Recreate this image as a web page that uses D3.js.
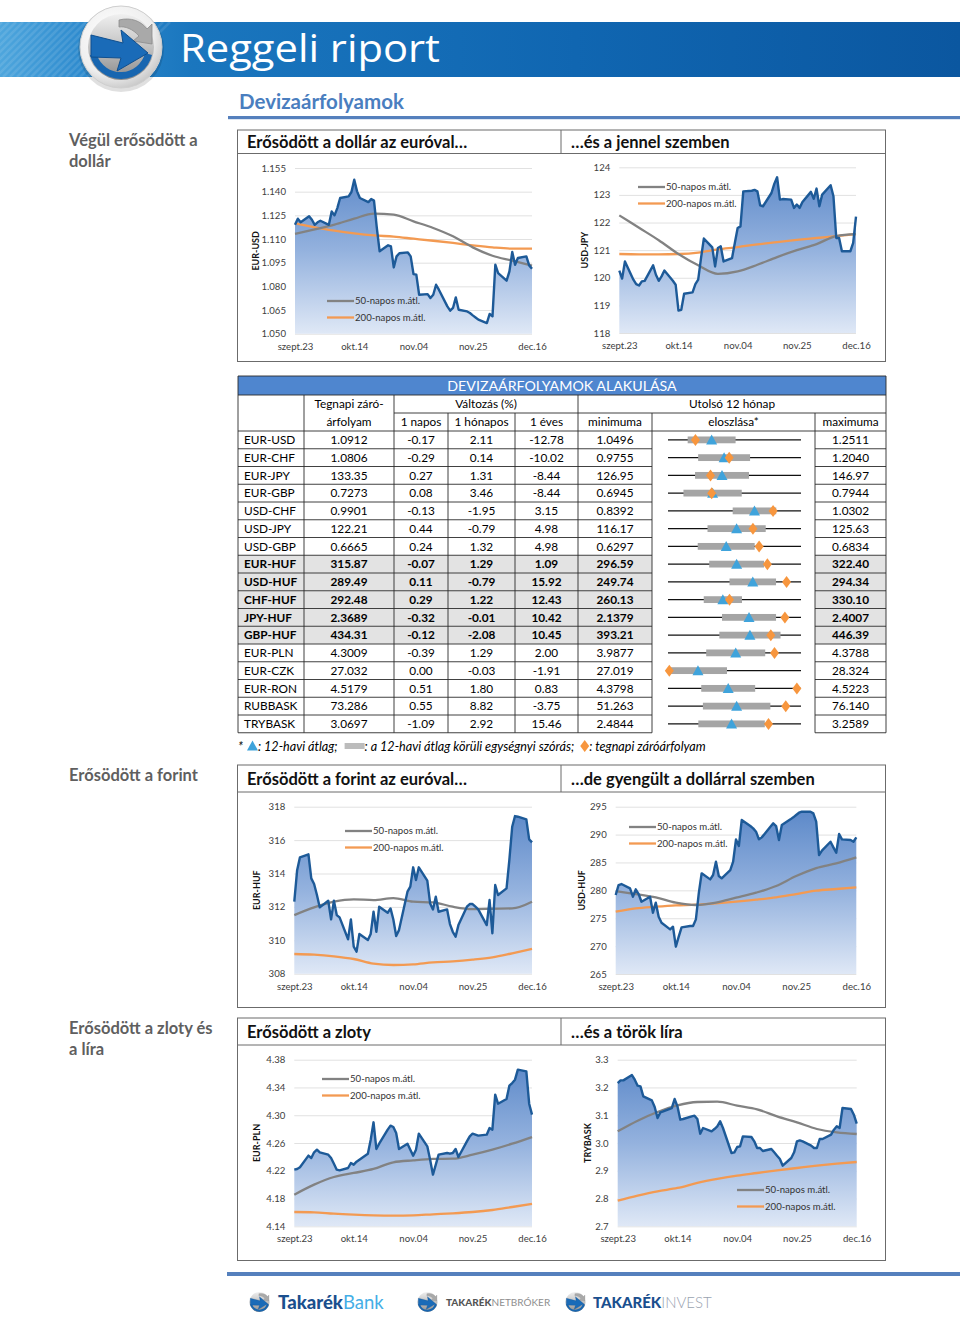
<!DOCTYPE html>
<html><head><meta charset="utf-8">
<script src="https://cdn.jsdelivr.net/npm/d3@7"></script>
<style>html,body{margin:0;padding:0;background:#fff;} svg{display:block;}</style>
</head><body>
<svg id="page" width="960" height="1329"></svg>
<script>
// ================= DATA =================
const tickLabels = ["szept.23","okt.14","nov.04","nov.25","dec.16"];
const tickDateStrings = ["2015-09-23","2015-10-14","2015-11-04","2015-11-25","2015-12-16"];
// moving averages are read at every 5th business day
const maSampleIdx = [0,5,10,15,20,25,30,35,40,45,50,55,60];

const eurusd = [1.119,1.1229,1.1206,1.1244,1.1222,1.119,1.1206,1.1216,1.119,1.1275,1.125,1.1296,1.136,1.137,1.1398,1.1476,1.1402,1.136,1.1334,1.1353,1.1343,1.117,1.1022,1.106,1.1053,1.092,1.099,1.101,1.1015,1.099,1.0878,1.0874,1.0747,1.0751,1.0726,1.0747,1.081,1.0779,1.0673,1.0646,1.0663,1.073,1.0652,1.0641,1.0631,1.0616,1.0603,1.0589,1.0567,1.0625,1.061,1.0937,1.0884,1.0836,1.0895,1.1018,1.0937,1.098,1.099,1.0933,1.0912];
const eurusdMA50 = [1.1132,1.1161,1.1191,1.1229,1.1261,1.1254,1.1212,1.117,1.1117,1.1047,1.0994,1.0963,1.0931];
const eurusdMA200 = [1.1201,1.1174,1.1153,1.1136,1.1123,1.1115,1.1102,1.1089,1.1075,1.106,1.1047,1.1039,1.1039];
const eurusdTicks = [1.050,1.065,1.080,1.095,1.110,1.125,1.140,1.155];

const usdjpy = [120.26,119.97,120.59,119.93,119.77,119.72,119.87,119.89,120.45,120.11,119.89,120.05,120.26,119.89,119.75,118.81,118.84,119.42,119.47,119.77,119.93,120.71,121.42,121.1,120.41,121.08,121.14,120.59,120.71,121.26,121.8,121.86,123.13,123.15,123.18,123.13,122.62,122.59,123.07,123.4,123.64,122.83,122.85,122.83,122.53,122.65,122.53,122.74,123.11,122.86,123.23,122.59,123.01,123.35,122.95,121.44,121.44,120.96,120.96,121.26,122.21];
const usdjpyMA50 = [122.26,121.81,121.36,120.86,120.45,120.14,120.23,120.47,120.75,121.0,121.22,121.51,121.58];
const usdjpyMA200 = [120.86,120.85,120.85,120.86,120.91,121.03,121.11,121.21,121.29,121.37,121.44,121.51,121.58];
const usdjpyTicks = [118,119,120,121,122,123,124];

const eurhuf = [312.31,314.2,314.97,315.15,313.71,313.37,312.71,311.97,312.37,311.25,312.37,311.51,311.37,310.06,311.25,309.62,309.32,310.38,310.02,310.38,311.71,310.51,312.01,311.65,311.91,311.25,310.26,310.61,312.91,313.21,314.37,313.61,314.37,313.57,312.21,311.85,312.61,311.71,311.85,310.97,310.51,310.22,310.91,312.01,312.17,312.17,312.01,311.85,310.91,312.41,310.42,313.31,312.71,313.11,314.81,316.8,317.44,317.4,317.24,316.04,315.86];
const eurhufMA50 = [311.51,311.97,312.31,312.45,312.41,312.53,312.31,312.27,312.01,311.87,311.89,311.91,312.31];
const eurhufMA200 = [309.18,309.14,309.04,308.88,308.6,308.52,308.56,308.68,308.74,308.84,308.98,309.22,309.48];
const eurhufTicks = [308,310,312,314,316,318];

const usdhuf = [279.16,280.95,281.13,280.36,278.86,280.18,279.34,277.96,278.86,275.99,277.79,275.28,274.2,273.0,273.48,269.9,271.69,273.36,273.6,273.6,274.8,279.46,283.05,281.97,282.75,285.14,282.57,282.15,283.64,285.14,289.14,287.95,292.61,291.53,291.11,290.52,289.14,289.5,291.41,292.01,291.53,289.02,291.71,292.73,293.09,293.51,293.92,294.1,294.1,293.8,292.31,286.33,287.11,288.72,287.71,286.75,290.1,289.14,289.02,288.72,289.5];
const usdhufMA50 = [279.88,279.34,278.74,277.79,277.37,277.79,278.68,279.58,280.77,282.57,284.0,284.84,285.91];
const usdhufMA200 = [276.17,276.77,277.07,277.31,277.43,277.67,277.97,278.32,278.74,279.34,279.94,280.24,280.53];
const usdhufTicks = [265,270,275,280,285,290,295];

const eurpln = [4.2216,4.2226,4.225,4.2418,4.2384,4.2466,4.2504,4.2466,4.2432,4.2384,4.2302,4.2216,4.2206,4.224,4.2312,4.2288,4.2331,4.236,4.2446,4.2648,4.2898,4.2514,4.259,4.2792,4.285,4.283,4.2744,4.2514,4.259,4.2504,4.2418,4.2504,4.2734,4.2552,4.236,4.2144,4.2288,4.2432,4.2456,4.2446,4.2456,4.2514,4.2398,4.2624,4.2696,4.2734,4.272,4.2706,4.272,4.2816,4.2792,4.3296,4.3166,4.3234,4.3426,4.3464,4.3512,4.3656,4.3632,4.3166,4.3009];
const eurplnMA50 = [4.1856,4.2,4.211,4.2168,4.2226,4.2322,4.235,4.237,4.2374,4.2432,4.2504,4.259,4.2686];
const eurplnMA200 = [4.1606,4.1602,4.1582,4.1568,4.1558,4.1554,4.1558,4.1573,4.1587,4.1606,4.1635,4.1678,4.1722];
const eurplnTicks = [4.14,4.18,4.22,4.26,4.30,4.34,4.38];

const trybask = [3.216,3.2256,3.2256,3.2448,3.228,3.2064,3.204,3.168,3.1536,3.1296,3.09,3.1104,3.114,3.126,3.1584,3.132,3.084,3.0864,3.096,3.0984,3.0864,3.0336,3.054,3.042,3.0504,3.06,3.078,3.054,2.964,2.9664,2.9856,2.988,3.024,3.0216,3.006,2.982,2.982,2.9712,2.9784,2.9664,2.9544,2.9424,2.9184,2.946,2.9664,3.006,3.0096,3.006,2.9904,2.982,2.982,3.0144,3.0144,3.03,3.048,3.06,3.054,3.126,3.1224,3.102,3.0697];
const trybaskMA50 = [3.042,3.0804,3.1116,3.1356,3.1476,3.1488,3.1344,3.1212,3.096,3.0744,3.0504,3.0384,3.0324];
const trybaskMA200 = [2.7924,2.8104,2.826,2.838,2.856,2.8704,2.8824,2.892,2.9016,2.91,2.9184,2.9256,2.9316];
const trybaskTicks = [2.7,2.8,2.9,3.0,3.1,3.2,3.3];

const legendLabels = ["50-napos m.átl.","200-napos m.átl."];

// table
const tablePairs = ["EUR-USD","EUR-CHF","EUR-JPY","EUR-GBP","USD-CHF","USD-JPY","USD-GBP","EUR-HUF","USD-HUF","CHF-HUF","JPY-HUF","GBP-HUF","EUR-PLN","EUR-CZK","EUR-RON","RUBBASK","TRYBASK"];
const closeVals = [1.0912,1.0806,133.35,0.7273,0.9901,122.21,0.6665,315.87,289.49,292.48,2.3689,434.31,4.3009,27.032,4.5179,73.286,3.0697];
const valueDecimals = [4,4,2,4,4,2,4,2,2,2,4,2,4,3,4,3,4];
const chg1d = [-0.17,-0.29,0.27,0.08,-0.13,0.44,0.24,-0.07,0.11,0.29,-0.32,-0.12,-0.39,0.00,0.51,0.55,-1.09];
const chg1m = [2.11,0.14,1.31,3.46,-1.95,-0.79,1.32,1.29,-0.79,1.22,-0.01,-2.08,1.29,-0.03,1.80,8.82,2.92];
const chg1y = [-12.78,-10.02,-8.44,-8.44,3.15,4.98,4.98,1.09,15.92,12.43,10.42,10.45,2.00,-1.91,0.83,-3.75,15.46];
const minVals = [1.0496,0.9755,126.95,0.6945,0.8392,116.17,0.6297,296.59,249.74,260.13,2.1379,393.21,3.9877,27.019,4.3798,51.263,2.4844];
const maxVals = [1.2511,1.2040,146.97,0.7944,1.0302,125.63,0.6834,322.40,294.34,330.10,2.4007,446.39,4.3788,28.324,4.5223,76.140,3.2589];
const meanVals = [1.1157,1.0719,135.08,0.728,0.9634,121.05,0.6532,309.91,278.17,288.99,2.298,425.97,4.1868,27.313,4.4443,64.10,2.8546];
const stdVals = [0.0363,0.0446,4.06,0.0219,0.0313,2.07,0.0115,5.32,7.8,10.06,0.0534,12.23,0.0868,0.285,0.0289,6.31,0.1936];
const boldPairs = ["EUR-HUF","USD-HUF","CHF-HUF","JPY-HUF","GBP-HUF"];

// ================= RENDER =================
const FONT = "Lato, 'Open Sans', sans-serif";
const svg = d3.select("#page").style("font-family", FONT);
const defs = svg.append("defs");
const parse = d3.timeParse("%Y-%m-%d");
const tickDates = tickDateStrings.map(parse);
const days = d3.timeDay.range(tickDates[0], d3.timeDay.offset(tickDates[tickDates.length-1],1))
  .filter(d => d.getDay()!==0 && d.getDay()!==6);

function grad(id, stops, vertical, attrs) {
  const g = defs.append("linearGradient").attr("id", id)
    .attr("x1",0).attr("y1",0).attr("x2", vertical?0:1).attr("y2", vertical?1:0);
  if (attrs) Object.entries(attrs).forEach(([k,v])=>g.attr(k,v));
  stops.forEach(([o,c])=>g.append("stop").attr("offset",o).attr("stop-color",c));
  return g;
}

// ---------- Header banner ----------
grad("banner", [[0,"#4ea6dd"],[0.08,"#2f8ccf"],[0.2,"#1a76be"],[0.6,"#1066b1"],[1,"#0b57a0"]], false);
svg.append("rect").attr("x",0).attr("y",22).attr("width",960).attr("height",55).attr("fill","url(#banner)");
const stripeG = svg.append("g").attr("opacity",0.10);
for (let i=-60;i<120;i+=7) stripeG.append("line").attr("x1",i).attr("y1",77).attr("x2",i+55).attr("y2",22).attr("stroke","#fff").attr("stroke-width",2.5);

function drawLogo(cx, cy, r, withRing) {
  const g = svg.append("g").attr("transform", `translate(${cx},${cy}) scale(${r/41})`);
  if (withRing) {
    g.append("circle").attr("r",43).attr("fill","#000").attr("opacity",0.12).attr("cy",2);
    g.append("circle").attr("r",41).attr("fill","url(#ringGrad)").attr("stroke","#cfcfcf").attr("stroke-width",1);
  }
  g.append("circle").attr("r",33).attr("fill","url(#discGrad)");
  g.append("path").attr("d","M-31,8 A32,32 0 0,0 31,8 L24,6 A25,25 0 0,1 -24,8 Z").attr("fill","#1866b0");
  g.append("path").attr("d","M-2,-27 C10,-30 20,-26 26,-18 L31,-23 L31,-3 L12,-6 L18,-11 C12,-18 4,-21 -2,-20 Z").attr("fill","#a9a9a9").attr("stroke","#8c8c8c").attr("stroke-width",0.8);
  g.append("path").attr("d","M-30,-12 L2,-4 L0,-17 L27,6 L-4,24 L0,11 L-30,10 Z").attr("fill","#1a6bb8").attr("stroke","#0f4f8f").attr("stroke-width",1);
  return g;
}
const rg = defs.append("radialGradient").attr("id","ringGrad").attr("cx","40%").attr("cy","35%").attr("r","70%");
rg.append("stop").attr("offset",0).attr("stop-color","#ffffff");
rg.append("stop").attr("offset",0.7).attr("stop-color","#eeeeee");
rg.append("stop").attr("offset",1).attr("stop-color","#c4c4c4");
grad("discGrad", [[0,"#f0f0f0"],[0.55,"#bdbdbd"],[1,"#8a8a8a"]], true);
drawLogo(121, 47, 41, true);

svg.append("text").attr("x",180).attr("y",62).attr("fill","#fff")
  .attr("font-family","'Open Sans', 'Noto Sans', sans-serif").attr("font-size",39).attr("font-weight",400)
  .attr("textLength",260).attr("lengthAdjust","spacingAndGlyphs").text("Reggeli riport");

svg.append("text").attr("x",239).attr("y",109).attr("fill","#4a7ebf").attr("font-size",20.5).attr("font-weight",700)
  .text("Devizaárfolyamok");
svg.append("rect").attr("x",228).attr("y",116).attr("width",732).attr("height",3.2).attr("fill","#5580bd");

// ---------- Left section labels ----------
const sideLabels = [
  {lines:["Végül erősödött a","dollár"], y:146},
  {lines:["Erősödött a forint"], y:781},
  {lines:["Erősödött a zloty és","a líra"], y:1034}
];
sideLabels.forEach(s=>{
  s.lines.forEach((t,i)=>svg.append("text").attr("x",69).attr("y",s.y+i*21).attr("fill","#5f5f5f")
    .attr("font-size",16.5).attr("font-weight",700).text(t));
});

// ---------- Chart panels ----------
const panelRows = [
  {y0:130, yt:153.5, y1:361.5, titles:["Erősödött a dollár az euróval…","…és a jennel szemben"]},
  {y0:765, yt:792, y1:1007.5, titles:["Erősödött a forint az euróval…","…de gyengült a dollárral szemben"]},
  {y0:1018, yt:1045, y1:1260.5, titles:["Erősödött a zloty","…és a török líra"]}
];
const PX0 = 237.5, PXM = 561, PX1 = 885.5;
panelRows.forEach(p=>{
  svg.append("rect").attr("x",PX0).attr("y",p.y0).attr("width",PX1-PX0).attr("height",p.y1-p.y0)
    .attr("fill","none").attr("stroke","#6b6b6b").attr("stroke-width",1);
  svg.append("line").attr("x1",PX0).attr("x2",PX1).attr("y1",p.yt).attr("y2",p.yt).attr("stroke","#6b6b6b");
  svg.append("line").attr("x1",PXM).attr("x2",PXM).attr("y1",p.y0).attr("y2",p.yt).attr("stroke","#6b6b6b");
  const base = (p.y0+p.yt)/2 + 6;
  svg.append("text").attr("x",247).attr("y",base).attr("font-size",16.5).attr("font-weight",700).attr("fill","#111").text(p.titles[0]);
  svg.append("text").attr("x",571).attr("y",base).attr("font-size",16.5).attr("font-weight",700).attr("fill","#111").text(p.titles[1]);
});

const charts = [
  {values:eurusd, ma50:eurusdMA50, ma200:eurusdMA200, ticks:eurusdTicks, fmt:".3f", name:"EUR-USD",
   l:295, r:532, t:168, b:333.7, tx:255.5, leg:[327,301]},
  {values:usdjpy, ma50:usdjpyMA50, ma200:usdjpyMA200, ticks:usdjpyTicks, fmt:"d", name:"USD-JPY",
   l:619.3, r:856, t:167.3, b:333, tx:585, leg:[638,187]},
  {values:eurhuf, ma50:eurhufMA50, ma200:eurhufMA200, ticks:eurhufTicks, fmt:"d", name:"EUR-HUF",
   l:294.3, r:532, t:806.7, b:973.7, tx:257, leg:[345,831]},
  {values:usdhuf, ma50:usdhufMA50, ma200:usdhufMA200, ticks:usdhufTicks, fmt:"d", name:"USD-HUF",
   l:615.7, r:856.3, t:806.7, b:974, tx:581.7, leg:[629,827]},
  {values:eurpln, ma50:eurplnMA50, ma200:eurplnMA200, ticks:eurplnTicks, fmt:".2f", name:"EUR-PLN",
   l:294.3, r:532, t:1059.7, b:1226.3, tx:257, leg:[322,1079]},
  {values:trybask, ma50:trybaskMA50, ma200:trybaskMA200, ticks:trybaskTicks, fmt:".1f", name:"TRYBASK",
   l:617.7, r:856.7, t:1059.7, b:1226.3, tx:588, leg:[737,1190]}
];

charts.forEach((c, idx)=>{
  const g = svg.append("g");
  const x = d3.scaleTime().domain([tickDates[0], tickDates[tickDates.length-1]]).range([c.l, c.r]);
  const y = d3.scaleLinear().domain(d3.extent(c.ticks)).range([c.b, c.t]);
  const gid = "areaGrad"+idx;
  grad(gid, [[0,"#5a87c8"],[0.5,"#94b2de"],[1,"#dfe8f6"]], true,
       {gradientUnits:"userSpaceOnUse", x1:0, x2:0, y1:c.t, y2:c.b});
  g.append("g").attr("transform",`translate(${c.l},0)`)
    .call(d3.axisLeft(y).tickValues(c.ticks).tickSize(-(c.r-c.l)).tickFormat(""))
    .call(s=>{s.select(".domain").remove(); s.selectAll(".tick line").attr("stroke","#d9d9d9").attr("stroke-width",0.8);});
  const pts = c.values.map((v,i)=>({d:days[i], v}));
  g.append("path").datum(pts).attr("fill",`url(#${gid})`)
    .attr("d", d3.area().x(p=>x(p.d)).y0(c.b).y1(p=>y(p.v)));
  const maPts = arr => arr.map((v,k)=>({d:days[maSampleIdx[k]], v}));
  const smooth = d3.line().x(p=>x(p.d)).y(p=>y(p.v)).curve(d3.curveMonotoneX);
  g.append("path").datum(maPts(c.ma200)).attr("fill","none").attr("stroke","#f39a52").attr("stroke-width",2.3).attr("d", smooth);
  g.append("path").datum(maPts(c.ma50)).attr("fill","none").attr("stroke","#828282").attr("stroke-width",2.3).attr("d", smooth);
  g.append("path").datum(pts).attr("fill","none").attr("stroke","#1d5a98").attr("stroke-width",2.4)
    .attr("stroke-linejoin","round").attr("d", d3.line().x(p=>x(p.d)).y(p=>y(p.v)));
  g.append("g").attr("transform",`translate(${c.l-5},0)`)
    .call(d3.axisLeft(y).tickValues(c.ticks).tickSize(0).tickPadding(4).tickFormat(d3.format(c.fmt)))
    .call(s=>{s.select(".domain").remove(); s.selectAll("text").attr("font-family",FONT).attr("font-size",9.6).attr("fill","#404040");});
  g.append("g").attr("transform",`translate(0,${c.b})`)
    .call(d3.axisBottom(x).tickValues(tickDates).tickSize(0).tickPadding(9).tickFormat((d,i)=>tickLabels[i]))
    .call(s=>{s.select(".domain").remove(); s.selectAll("text").attr("font-family",FONT).attr("font-size",9.6).attr("fill","#404040");});
  g.append("text").attr("transform",`translate(${c.tx},${(c.t+c.b)/2}) rotate(-90)`).attr("text-anchor","middle")
    .attr("dy","0.35em").attr("font-size",9).attr("font-weight",700).attr("fill","#111").text(c.name);
  const colors = ["#828282","#f39a52"];
  legendLabels.forEach((lab,i)=>{
    const ly = c.leg[1] + i*16.5;
    g.append("line").attr("x1",c.leg[0]).attr("x2",c.leg[0]+27).attr("y1",ly).attr("y2",ly)
      .attr("stroke",colors[i]).attr("stroke-width",2.3);
    g.append("text").attr("x",c.leg[0]+28).attr("y",ly).attr("dy","0.35em").attr("font-size",9.6).attr("fill","#333").text(lab);
  });
});

// ---------- Table ----------
const T = {x0:238, x1:886, barTop:376, barBot:395, rowA:413, rowB:431, rowH:17.75};
const colX = [238,304,394,448,515,578,652,815,886];
const nRows = tablePairs.length;
const tBottom = T.rowB + nRows*T.rowH;
const tg = svg.append("g");
tg.append("rect").attr("x",T.x0).attr("y",T.barTop).attr("width",T.x1-T.x0).attr("height",T.barBot-T.barTop).attr("fill","#4f86cf");
tg.append("text").attr("x",(T.x0+T.x1)/2).attr("y",(T.barTop+T.barBot)/2).attr("dy","0.36em").attr("text-anchor","middle")
  .attr("fill","#fff").attr("font-size",14.2).text("DEVIZAÁRFOLYAMOK ALAKULÁSA");

tablePairs.forEach((p,i)=>{
  if (boldPairs.includes(p)) {
    const yy = T.rowB + i*T.rowH;
    tg.append("rect").attr("x",colX[0]).attr("y",yy).attr("width",colX[6]-colX[0]).attr("height",T.rowH).attr("fill","#e3e3e3");
    tg.append("rect").attr("x",colX[7]).attr("y",yy).attr("width",colX[8]-colX[7]).attr("height",T.rowH).attr("fill","#e3e3e3");
  }
});

const LS = "#2b2b2b";
function hl(x1,x2,y){tg.append("line").attr("x1",x1).attr("x2",x2).attr("y1",y).attr("y2",y).attr("stroke",LS).attr("stroke-width",0.9);}
function vl(x,y1,y2){tg.append("line").attr("x1",x).attr("x2",x).attr("y1",y1).attr("y2",y2).attr("stroke",LS).attr("stroke-width",0.9);}
hl(T.x0,T.x1,T.barTop); hl(T.x0,T.x1,T.barBot);
hl(colX[2],T.x1,T.rowA);
hl(T.x0,T.x1,T.rowB);
for (let i=1;i<=nRows;i++){
  const yy = T.rowB + i*T.rowH;
  hl(colX[0],colX[6],yy); hl(colX[7],colX[8],yy);
}
vl(T.x0,T.barTop,tBottom); vl(T.x1,T.barTop,tBottom);
vl(colX[1],T.barBot,tBottom); vl(colX[2],T.barBot,tBottom); vl(colX[5],T.barBot,tBottom);
vl(colX[3],T.rowA,tBottom); vl(colX[4],T.rowA,tBottom); vl(colX[6],T.rowA,tBottom); vl(colX[7],T.rowA,tBottom);

const TF = 11.8;
function ct(x,y,txt,bold,anchor){
  tg.append("text").attr("x",x).attr("y",y).attr("dy","0.36em").attr("text-anchor",anchor||"middle")
    .attr("font-size",TF).attr("font-weight",bold?700:400).attr("fill","#000").text(txt);
}
const midA = (T.barBot+T.rowA)/2, midB = (T.rowA+T.rowB)/2;
ct((colX[1]+colX[2])/2, midA, "Tegnapi záró-");
ct((colX[1]+colX[2])/2, midB, "árfolyam");
ct((colX[2]+colX[5])/2, midA, "Változás (%)");
ct((colX[5]+colX[8])/2, midA, "Utolsó 12 hónap");
["1 napos","1 hónapos","1 éves","minimuma","eloszlása*","maximuma"].forEach((t,k)=>{
  ct((colX[k+2]+colX[k+3])/2, midB, t);
});

const distL = 668, distR = 801;
tablePairs.forEach((p,i)=>{
  const cy = T.rowB + i*T.rowH + T.rowH/2;
  const b = boldPairs.includes(p);
  const f = d3.format("."+valueDecimals[i]+"f");
  const f2 = d3.format(".2f");
  ct(colX[0]+6, cy, p, b, "start");
  ct((colX[1]+colX[2])/2, cy, f(closeVals[i]), b);
  ct((colX[2]+colX[3])/2, cy, f2(chg1d[i]).replace("−","-"), b);
  ct((colX[3]+colX[4])/2, cy, f2(chg1m[i]).replace("−","-"), b);
  ct((colX[4]+colX[5])/2, cy, f2(chg1y[i]).replace("−","-"), b);
  ct((colX[5]+colX[6])/2, cy, f(minVals[i]), b);
  ct((colX[7]+colX[8])/2, cy, f(maxVals[i]), b);
  const s = d3.scaleLinear().domain([minVals[i], maxVals[i]]).range([distL, distR]);
  tg.append("line").attr("x1",distL).attr("x2",distR).attr("y1",cy).attr("y2",cy).attr("stroke","#111").attr("stroke-width",1.3);
  const bx0 = s(Math.max(minVals[i], meanVals[i]-stdVals[i])), bx1 = s(Math.min(maxVals[i], meanVals[i]+stdVals[i]));
  tg.append("rect").attr("x",bx0).attr("y",cy-3.4).attr("width",bx1-bx0).attr("height",6.8).attr("fill","#a5a5a5");
  const mx = s(meanVals[i]);
  tg.append("path").attr("d",`M${mx-5.5},${cy+4.5} L${mx+5.5},${cy+4.5} L${mx},${cy-5.5} Z`).attr("fill","#3fa3db");
  const dx = s(closeVals[i]);
  tg.append("path").attr("d",`M${dx},${cy-6} L${dx+4.5},${cy} L${dx},${cy+6} L${dx-4.5},${cy} Z`).attr("fill","#f7963e");
});

// footnote
(function(){
  const fy = 746;
  let cx = 238;
  const fg = svg.append("g").attr("font-size",12.6).attr("font-style","italic").attr("fill","#000");
  function txt(t){ const n = fg.append("text").attr("x",cx).attr("y",fy).attr("dy","0.36em").text(t); cx += n.node().getComputedTextLength(); }
  txt("*"); cx += 4;
  fg.append("path").attr("d",`M${cx},${fy+4.5} L${cx+11},${fy+4.5} L${cx+5.5},${fy-5.5} Z`).attr("fill","#3fa3db"); cx += 11;
  txt(": 12-havi átlag;"); cx += 7;
  fg.append("rect").attr("x",cx).attr("y",fy-3).attr("width",20).attr("height",6).attr("fill","#bcbcbc"); cx += 20;
  txt(": a 12-havi átlag körüli egységnyi szórás;"); cx += 6;
  fg.append("path").attr("d",`M${cx+4.5},${fy-6} L${cx+9},${fy} L${cx+4.5},${fy+6} L${cx},${fy} Z`).attr("fill","#f7963e"); cx += 9;
  txt(": tegnapi záróárfolyam");
})();

// ---------- Footer ----------
svg.append("rect").attr("x",227).attr("y",1272).attr("width",733).attr("height",4).attr("fill","#5580bd");
drawLogo(259.5, 1302, 12.5, false);
drawLogo(427.5, 1302, 12.5, false);
drawLogo(575.5, 1302, 12.5, false);
function pieceText(x, y, pieces) {
  let cx = x;
  pieces.forEach(p=>{
    const n = svg.append("text").attr("x",cx).attr("y",y).attr("font-size",p.size).attr("font-weight",p.w)
      .attr("fill",p.c).text(p.t);
    cx += n.node().getComputedTextLength();
  });
}
pieceText(278, 1309, [{t:"Takarék",size:18.5,w:900,c:"#1a4f8e"},{t:"Bank",size:18.5,w:400,c:"#45aee6"}]);
pieceText(446, 1306, [{t:"TAKARÉK",size:10,w:900,c:"#555"},{t:"NETBRÓKER",size:10,w:400,c:"#8e8e8e"}]);
pieceText(593, 1308, [{t:"TAKARÉK",size:15,w:900,c:"#1a4f8e"},{t:"INVEST",size:15,w:300,c:"#9aa3b0"}]);
</script>
</body></html>
